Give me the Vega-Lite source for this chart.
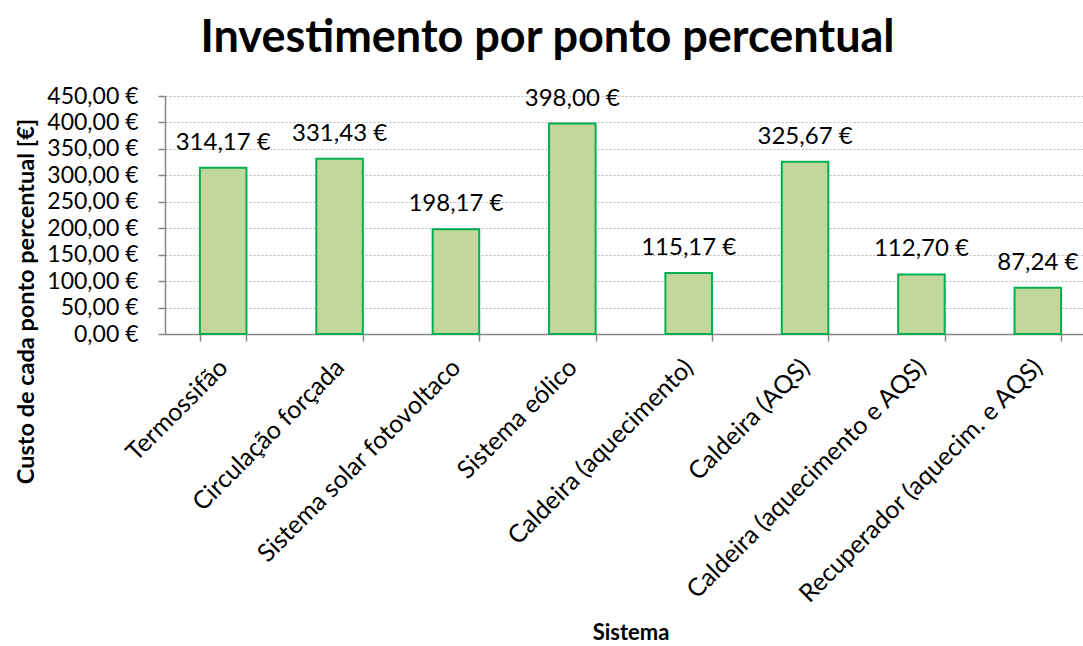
{
  "$schema": "https://vega.github.io/schema/vega-lite/v6.json",
  "width": 931,
  "height": 238,
  "autosize": {"type": "none"},
  "padding": {"left": 165, "top": 96, "right": 0, "bottom": 312},
  "background": "white",
  "config": {
    "font": "Lato",
    "locale": {
      "number": {"decimal": ",", "thousands": ".", "grouping": [3], "currency": ["", " €"]}
    },
    "view": {"stroke": null},
    "axis": {
      "labelFont": "Lato",
      "titleFont": "Lato",
      "labelColor": "black",
      "titleColor": "black",
      "domainColor": "#868686",
      "tickColor": "#868686",
      "domainWidth": 1.5,
      "tickWidth": 1.5
    }
  },
  "title": {
    "text": "Investimento por ponto percentual",
    "font": "Lato",
    "fontSize": 45,
    "fontWeight": "bold",
    "color": "black",
    "anchor": "middle",
    "dx": -83,
    "offset": 24
  },
  "data": {
    "values": [
      {"Sistema": "Termossifão", "Custo": 314.17},
      {"Sistema": "Circulação forçada", "Custo": 331.43},
      {"Sistema": "Sistema solar fotovoltaco", "Custo": 198.17},
      {"Sistema": "Sistema eólico", "Custo": 398.00},
      {"Sistema": "Caldeira (aquecimento)", "Custo": 115.17},
      {"Sistema": "Caldeira (AQS)", "Custo": 325.67},
      {"Sistema": "Caldeira (aquecimento e AQS)", "Custo": 112.70},
      {"Sistema": "Recuperador (aquecim. e AQS)", "Custo": 87.24}
    ]
  },
  "encoding": {
    "x": {
      "field": "Sistema",
      "type": "nominal",
      "sort": null,
      "scale": {"paddingInner": 0.6, "paddingOuter": 0.3},
      "axis": {
        "title": "Sistema",
        "titleFontSize": 22,
        "titleFontWeight": "bold",
        "titleBaseline": "alphabetic",
        "titleY": 305,
        "labelAngle": -45,
        "labelAlign": "right",
        "labelBaseline": "middle",
        "labelFontSize": 25,
        "labelPadding": 22,
        "labelLimit": 500,
        "tickBand": "extent",
        "tickSize": 7,
        "grid": false
      }
    },
    "y": {
      "field": "Custo",
      "type": "quantitative",
      "scale": {"domain": [0, 450], "nice": false},
      "axis": {
        "title": "Custo de cada ponto percentual [€]",
        "titleFontSize": 23.5,
        "titleFontWeight": "bold",
        "titleAngle": -90,
        "titleAlign": "center",
        "titleBaseline": "alphabetic",
        "titleLimit": 800,
        "titleX": -132,
        "titleY": 205,
        "values": [0, 50, 100, 150, 200, 250, 300, 350, 400, 450],
        "format": "$.2f",
        "labelFontSize": 23,
        "labelPadding": 20,
        "tickSize": 7,
        "grid": true,
        "gridColor": "#b8b8b8",
        "gridDash": [2, 2],
        "gridWidth": 1
      }
    }
  },
  "layer": [
    {
      "mark": {"type": "bar", "fill": "#c3d69b", "stroke": "#00b050", "strokeWidth": 2}
    },
    {
      "mark": {"type": "text", "fontSize": 24, "font": "Lato", "color": "black", "baseline": "alphabetic", "dy": -18},
      "encoding": {
        "text": {"field": "Custo", "type": "quantitative", "format": "$.2f"}
      }
    }
  ]
}
